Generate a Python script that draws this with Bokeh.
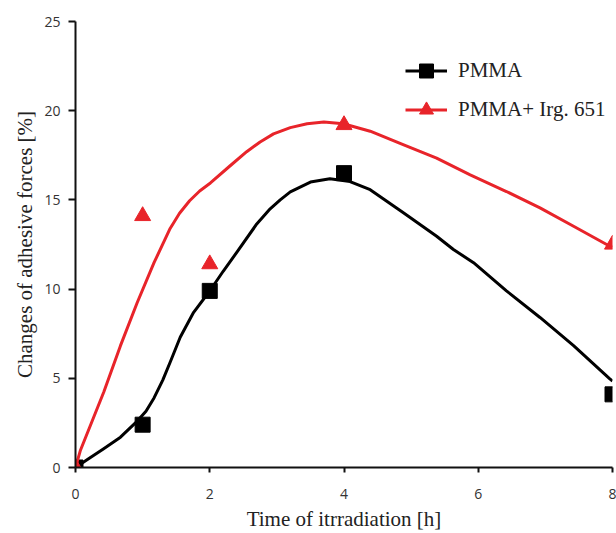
from bokeh.plotting import figure
from bokeh.models import Legend, LegendItem, Range1d, FixedTicker
from bokeh.embed import file_html
from bokeh.resources import INLINE

# measured points
time_h = [0, 1, 2, 4, 8]
pmma = [0, 2.4, 9.9, 16.5, 4.1]
pmma_irg = [0, 14.1, 11.4, 19.2, 12.5]

# smoothed trend curves
curve_x_pmma = [0, 0.2, 0.42, 0.67, 0.92, 1.05, 1.17, 1.3, 1.41, 1.56, 1.76, 2.01, 2.2, 2.41, 2.70, 2.90, 3.05, 3.2,
                3.5, 3.79, 4.09, 4.39, 4.89, 5.38, 5.63, 5.93, 6.42, 6.92, 7.42, 7.96, 8.0]
curve_y_pmma = [0, 0.5, 1.05, 1.7, 2.6, 3.15, 3.9, 4.9, 5.9, 7.3, 8.7, 9.95, 11.0, 12.1, 13.65, 14.5, 15.0, 15.45,
                16.0, 16.18, 16.03, 15.57, 14.27, 12.96, 12.22, 11.48, 9.9, 8.41, 6.83, 4.97, 4.85]
curve_x_irg = [0, 0.074, 0.42, 0.67, 0.92, 1.17, 1.41, 1.55, 1.7, 1.85, 2.01, 2.3, 2.55, 2.75, 2.95, 3.2, 3.45, 3.7, 3.99,
               4.39, 4.89, 5.38, 5.88, 6.42, 6.92, 7.42, 7.96, 8.0]
curve_y_irg = [0, 0.97, 4.22, 6.83, 9.25, 11.48, 13.4, 14.25, 14.95, 15.5, 15.95, 16.9, 17.7, 18.25, 18.7, 19.05, 19.27,
               19.36, 19.27, 18.85, 18.08, 17.34, 16.4, 15.47, 14.55, 13.52, 12.4, 12.35]

x_ticks = [0, 2, 4, 6, 8]
y_ticks = [0, 5, 10, 15, 20, 25]

p = figure(width=616, height=533, output_backend="svg", toolbar_location=None,
           x_range=Range1d(0, 8), y_range=Range1d(0, 25),
           min_border_left=75, min_border_right=4, min_border_top=21, min_border_bottom=64)
p.outline_line_color = None
p.grid.visible = False
p.background_fill_color = "white"
p.border_fill_color = "white"

RED = "#e8242a"
l1 = p.line(curve_x_pmma, curve_y_pmma, line_color="black", line_width=3, line_join="round")
m1 = p.scatter(time_h, pmma, marker="square", size=15, fill_color="black", line_color="black")
l2 = p.line(curve_x_irg, curve_y_irg, line_color=RED, line_width=3, line_join="round")
m2 = p.scatter(time_h, pmma_irg, marker="triangle", size=16, fill_color=RED, line_color=RED)

for ax in (p.xaxis[0], p.yaxis[0]):
    ax.axis_line_width = 2
    ax.axis_line_color = "#111111"
    ax.major_tick_line_width = 2
    ax.major_tick_line_color = "#111111"
    ax.minor_tick_line_color = None
    ax.major_label_text_font = "Open Sans"
    ax.major_label_text_font_size = "14px"
    ax.major_label_text_color = "#333333"
    ax.axis_label_text_font = "Liberation Serif"
    ax.axis_label_text_font_size = "21px"
    ax.axis_label_text_font_style = "normal"
    ax.axis_label_text_color = "#222222"

p.xaxis[0].ticker = FixedTicker(ticks=x_ticks)
p.yaxis[0].ticker = FixedTicker(ticks=y_ticks)
p.xaxis[0].major_tick_in = 0
p.xaxis[0].major_tick_out = 5
p.yaxis[0].major_tick_in = 0
p.yaxis[0].major_tick_out = 7
p.xaxis[0].major_label_standoff = 16
p.yaxis[0].major_label_standoff = 8
p.xaxis[0].axis_label = "Time of itrradiation [h]"
p.yaxis[0].axis_label = "Changes of adhesive forces [%]"
p.xaxis[0].axis_label_standoff = 5
p.yaxis[0].axis_label_standoff = 4

legend = Legend(items=[LegendItem(label="PMMA", renderers=[l1, m1]),
                       LegendItem(label="PMMA+ Irg. 651", renderers=[l2, m2])],
                location=(330, 340))
legend.padding = 0
legend.margin = 0
legend.spacing = 4
legend.glyph_width = 42
legend.glyph_height = 35
legend.label_height = 35
legend.label_standoff = 11
legend.label_text_font = "Liberation Serif"
legend.label_text_font_size = "21px"
legend.label_text_color = "#222222"
legend.border_line_alpha = 0
legend.background_fill_alpha = 0
p.add_layout(legend, "center")

open("out.html", "w").write(file_html(p, INLINE))
